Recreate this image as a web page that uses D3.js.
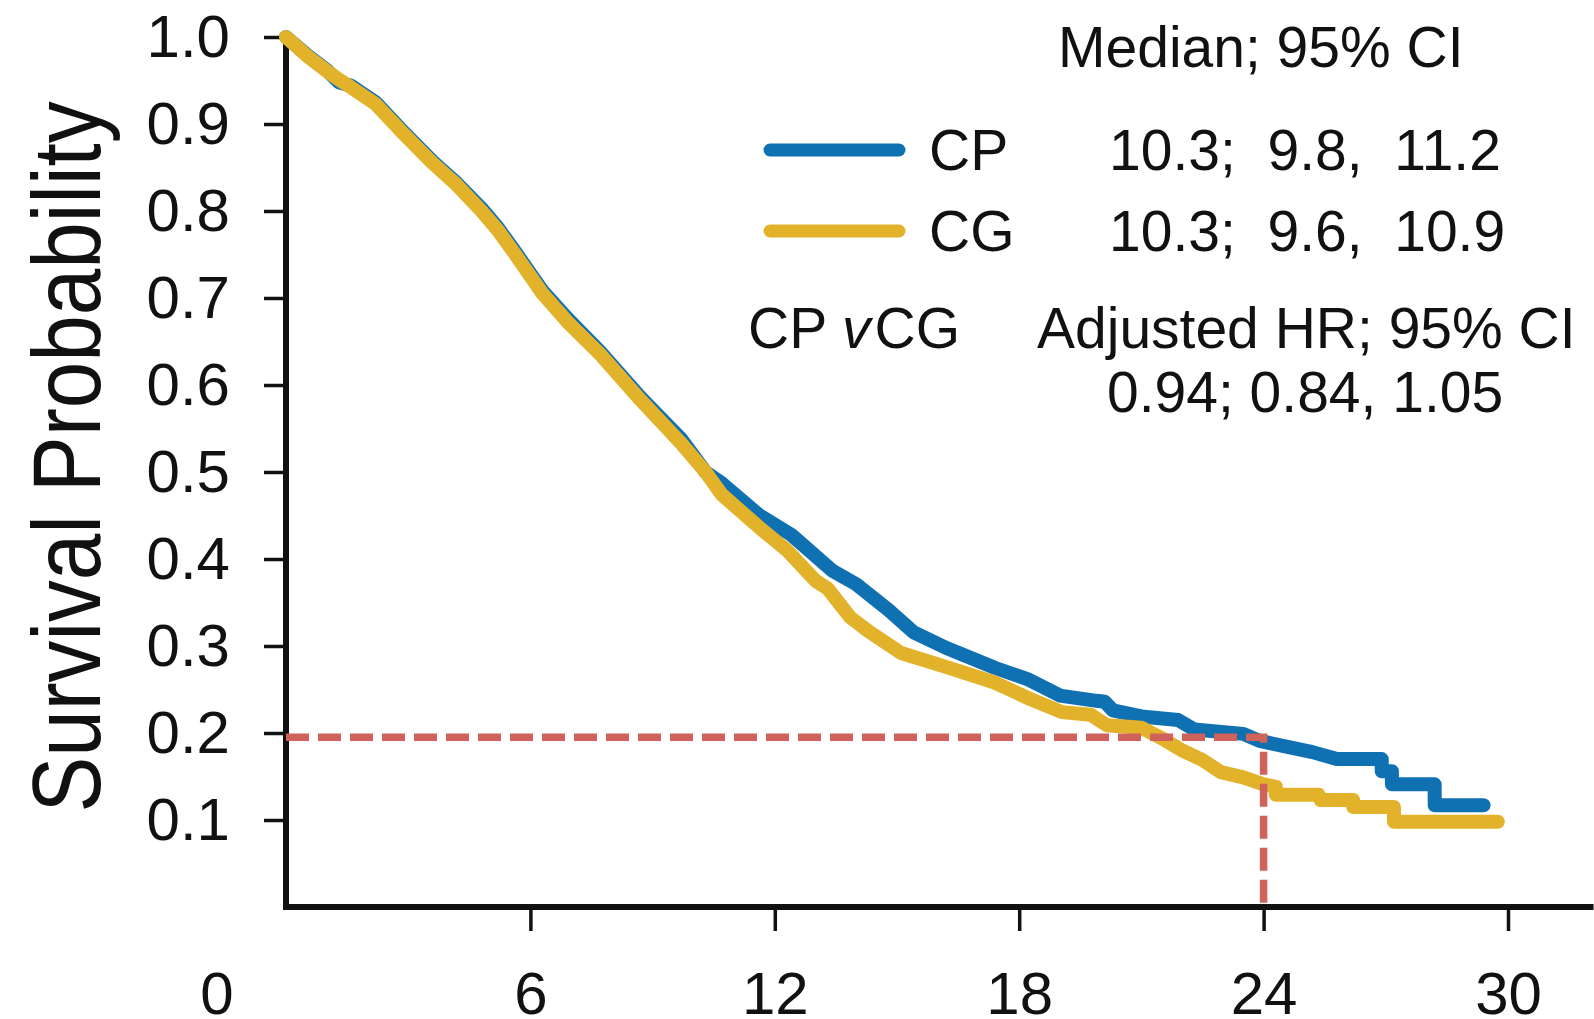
<!DOCTYPE html>
<html>
<head>
<meta charset="utf-8">
<script src="https://cdn.jsdelivr.net/npm/d3@7"></script>
<style>
  html, body { margin: 0; padding: 0; background: #fff; }
  svg { display: block; font-family: "Liberation Sans", Arial, Helvetica, sans-serif; }
  .pre { white-space: pre; }
</style>
</head>
<body>
<svg id="chart" width="1594" height="1019"></svg>
<script>
// Kaplan-Meier overall survival, months since randomisation
const seriesNames = ["CP", "CG"];
const seriesColors = ["#1071b2", "#e2b22b"];

// [month, survival probability]
const cpCurve = [
  [0, 1.0], [0.55, 0.978], [1.0, 0.962], [1.3, 0.948], [1.6, 0.944], [2.2, 0.925],
  [2.8, 0.895], [3.6, 0.857], [4.15, 0.834], [4.8, 0.803], [5.2, 0.781], [5.6, 0.755],
  [6.3, 0.708], [6.9, 0.677], [7.7, 0.639], [8.7, 0.586], [9.7, 0.538], [10.3, 0.50],
  [10.7, 0.487], [11.6, 0.451], [12.4, 0.428], [13.4, 0.387], [14.0, 0.371],
  [14.8, 0.341], [15.4, 0.316], [16.2, 0.298], [17.4, 0.275], [18.2, 0.262],
  [19.0, 0.243], [19.9, 0.237], [20.1, 0.236], [20.3, 0.226], [21.0, 0.219],
  [21.9, 0.215], [22.3, 0.204], [23.5, 0.199], [23.9, 0.191], [24.5, 0.185],
  [25.2, 0.178], [25.8, 0.17], [26.9, 0.17], [26.9, 0.156], [27.15, 0.156],
  [27.15, 0.141], [28.2, 0.141], [28.2, 0.117], [29.4, 0.117]
];
const cgCurve = [
  [0, 1.0], [0.55, 0.977], [1.0, 0.961], [1.3, 0.951], [1.6, 0.942], [2.2, 0.923],
  [2.8, 0.893], [3.6, 0.855], [4.15, 0.832], [4.8, 0.800], [5.2, 0.778], [5.6, 0.752],
  [6.3, 0.705], [6.9, 0.673], [7.7, 0.636], [8.7, 0.583], [9.7, 0.533], [10.3, 0.50],
  [10.7, 0.474], [11.6, 0.437], [12.3, 0.41], [13.0, 0.375], [13.3, 0.366],
  [13.85, 0.333], [14.3, 0.317], [15.1, 0.292], [16.2, 0.276], [17.4, 0.258],
  [18.27, 0.239], [19.05, 0.224], [19.75, 0.221], [20.15, 0.209], [21.0, 0.206],
  [21.5, 0.194], [22.0, 0.18], [22.5, 0.169], [22.95, 0.155], [23.5, 0.149],
  [24.0, 0.141], [24.3, 0.138], [24.3, 0.129], [25.35, 0.129], [25.4, 0.123],
  [26.2, 0.123], [26.2, 0.115], [27.2, 0.115], [27.2, 0.098], [29.75, 0.098]
];

const medians = ["10.3", "10.3"];
const ciLow = ["9.8", "9.6"];
const ciHigh = ["11.2", "10.9"];
const hazardRatio = ["0.94", "0.84", "1.05"];

const xTicks = [6, 12, 18, 24, 30];
const yTicks = [0.1, 0.2, 0.3, 0.4, 0.5, 0.6, 0.7, 0.8, 0.9, 1.0];
const landmarkMonth = 24;
const landmarkSurvival = 0.195;

const svg = d3.select("#chart");
const x = d3.scaleLinear().domain([0, 30]).range([286, 1508]);
const y = d3.scaleLinear().domain([0, 1]).range([907, 37]);

const tickFont = 60;

// y axis ticks and labels
const yAxis = svg.append("g")
  .attr("transform", `translate(${x(0)},0)`)
  .call(d3.axisLeft(y).tickValues(yTicks).tickFormat(d3.format(".1f")).tickSize(22).tickPadding(34));
yAxis.select(".domain").remove();
yAxis.selectAll(".tick line").attr("stroke", "#111").attr("stroke-width", 3.5);
yAxis.selectAll(".tick text").attr("font-size", tickFont).attr("fill", "#111")
  .attr("font-family", "Liberation Sans, Arial, sans-serif");

// x axis ticks and labels
const xAxis = svg.append("g")
  .attr("transform", `translate(0,${y(0)})`)
  .call(d3.axisBottom(x).tickValues(xTicks).tickFormat(d3.format("d")).tickSize(24).tickPadding(40));
xAxis.select(".domain").remove();
xAxis.selectAll(".tick line").attr("stroke", "#111").attr("stroke-width", 3.5);
xAxis.selectAll(".tick text").attr("font-size", tickFont).attr("fill", "#111")
  .attr("font-family", "Liberation Sans, Arial, sans-serif");

// origin label sits left of the corner
svg.append("text")
  .attr("x", x(0) - 69).attr("y", y(0) + 24 + 40)
  .attr("dy", "0.71em")
  .attr("text-anchor", "middle")
  .attr("font-size", tickFont).attr("fill", "#111")
  .text("0");

// axis lines
svg.append("path")
  .attr("d", `M${x(0)},${y(1)}V${y(0)}H${x(32.1)}`)
  .attr("fill", "none").attr("stroke", "#111").attr("stroke-width", 6)
  .attr("stroke-linejoin", "miter");

// y axis title
svg.append("text")
  .attr("transform", `translate(100,457) rotate(-90)`)
  .attr("text-anchor", "middle")
  .attr("font-size", 96).attr("fill", "#111")
  .attr("textLength", 711).attr("lengthAdjust", "spacingAndGlyphs")
  .text("Survival Probability");

// survival curves (CG drawn over CP)
const line = d3.line().x(d => x(d[0])).y(d => y(d[1])).curve(d3.curveLinear);
[cpCurve, cgCurve].forEach((curve, i) => {
  svg.append("path")
    .datum(curve)
    .attr("d", line)
    .attr("fill", "none")
    .attr("stroke", seriesColors[i])
    .attr("stroke-width", 14)
    .attr("stroke-linejoin", "round")
    .attr("stroke-linecap", "round");
});

// 24-month landmark
svg.append("path")
  .attr("d", `M${x(0)},${y(landmarkSurvival)}H${x(landmarkMonth)}V${y(0)}`)
  .attr("fill", "none").attr("stroke", "#cf625a").attr("stroke-width", 7.5)
  .attr("stroke-dasharray", "23 9");

// legend
const legendFont = 57;
svg.append("text").attr("x", 1058).attr("y", 67).attr("font-size", legendFont).attr("fill", "#111")
  .text("Median; 95% CI");

const rowY = [170, 251];
seriesNames.forEach((name, i) => {
  const ly = rowY[i] - 20;
  svg.append("line")
    .attr("x1", 770).attr("x2", 899).attr("y1", ly).attr("y2", ly)
    .attr("stroke", seriesColors[i]).attr("stroke-width", 13).attr("stroke-linecap", "round");
  svg.append("text").attr("x", 929).attr("y", rowY[i]).attr("font-size", legendFont).attr("fill", "#111")
    .text(name);
  svg.append("text").attr("class", "pre").attr("x", 1109).attr("y", rowY[i])
    .attr("font-size", legendFont).attr("fill", "#111")
    .text(`${medians[i]};  ${ciLow[i]},  ${ciHigh[i]}`);
});

const cmp = svg.append("text").attr("class", "pre").attr("x", 748).attr("y", 348)
  .attr("font-size", legendFont).attr("fill", "#111");
cmp.append("tspan").text(`${seriesNames[0]} `);
cmp.append("tspan").attr("font-style", "italic").text("v");
cmp.append("tspan").attr("dx", 4).text(seriesNames[1]);

svg.append("text").attr("x", 1037).attr("y", 348).attr("font-size", legendFont).attr("fill", "#111")
  .text("Adjusted HR; 95% CI");
svg.append("text").attr("class", "pre").attr("x", 1107).attr("y", 412)
  .attr("font-size", legendFont).attr("fill", "#111")
  .text(`${hazardRatio[0]}; ${hazardRatio[1]}, ${hazardRatio[2]}`);
</script>
</body>
</html>
